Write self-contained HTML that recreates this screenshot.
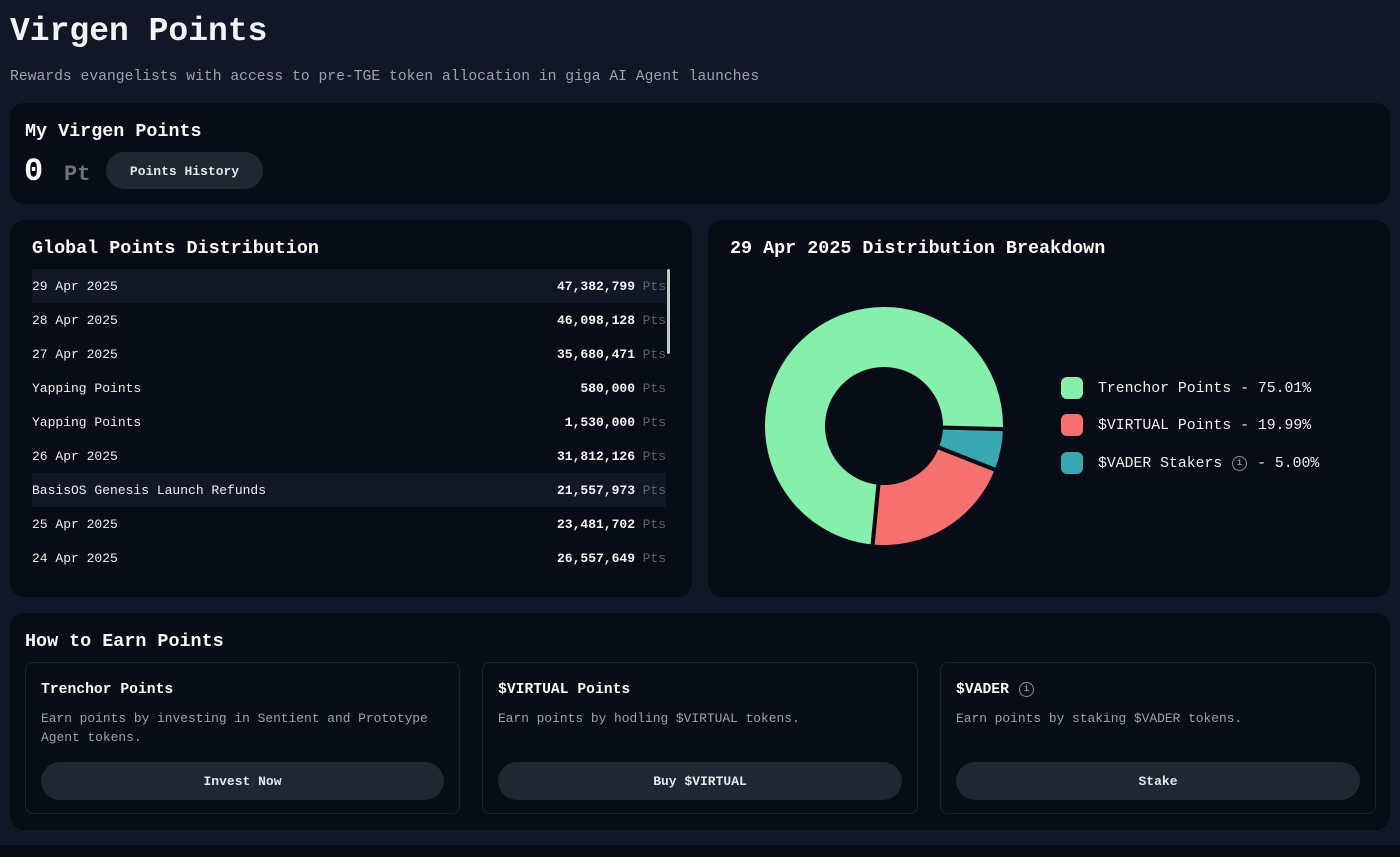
<!DOCTYPE html>
<html><head><meta charset="utf-8">
<style>
*{box-sizing:border-box;margin:0;padding:0}
body{width:1400px;height:857px;background:#090c13;overflow:hidden;font-family:"Liberation Mono",monospace;color:#f3f4f6;position:relative}
.a{position:absolute;white-space:nowrap}
#wrap{position:absolute;left:0;top:0;width:1400px;height:845px;background:#111726}
.card{position:absolute;background:#080c16;border-radius:14px}
.h{font-weight:bold;font-size:18.4px;line-height:24px;color:#f9fafb}
.row{position:absolute;left:32px;width:634px;height:34px;font-size:13px;line-height:34px}
.row .l{position:absolute;left:0;top:1px;color:#eef0f3}
.row .n{position:absolute;right:31px;top:1px;font-weight:bold;color:#f3f4f6}
.row .p{position:absolute;right:0;top:1px;color:#5b6270}
.hl{background:#111725}
.btn{position:absolute;background:#1f2733;border-radius:19px;text-align:center;font-weight:bold;font-size:13px;color:#e5e7eb}
.ic{position:absolute;border:1.3px solid #8a909a;border-radius:50%;color:#8a909a;font-size:9px;text-align:center;font-weight:bold}
.inner{position:absolute;top:662px;height:152px;border:1px solid #1a2130;border-radius:8px;background:#080c16}
.it{position:absolute;left:15px;top:16px;font-weight:bold;font-size:14.7px;line-height:22px;color:#f9fafb}
.id{position:absolute;left:15px;top:46px;font-size:12.9px;line-height:19px;color:#9ca3af;white-space:nowrap}
.sq{position:absolute;width:22px;height:22px;border-radius:6px}
.lg{position:absolute;left:1098px;font-size:14.8px;line-height:22px;color:#eef0f3}
</style></head>
<body>
<div id="wrap">
  <div class="a" style="left:10px;top:12px;font-size:33px;line-height:40px;font-weight:bold;color:#f3f4f6">Virgen Points</div>
  <div class="a" style="left:10px;top:67px;font-size:14.7px;line-height:20px;color:#9ca3af">Rewards evangelists with access to pre-TGE token allocation in giga AI Agent launches</div>

  <div class="card" style="left:10px;top:103px;width:1380px;height:101px"></div>
  <div class="a h" style="left:25px;top:120px">My Virgen Points</div>
  <div class="a" style="left:24px;top:154px;font-size:32px;line-height:36px;font-weight:bold;color:#f9fafb">0</div>
  <div class="a" style="left:64px;top:162px;font-size:22px;line-height:26px;font-weight:bold;color:#6b7280">Pt</div>
  <div class="btn" style="left:106px;top:152px;width:157px;height:37px;line-height:39px">Points History</div>

  <div class="card" style="left:10px;top:220px;width:682px;height:377px"></div>
  <div class="a h" style="left:32px;top:237px">Global Points Distribution</div>
  <div class="row hl" style="top:269px"><span class="l">29 Apr 2025</span><span class="n">47,382,799</span><span class="p">Pts</span></div>
  <div class="row" style="top:303px"><span class="l">28 Apr 2025</span><span class="n">46,098,128</span><span class="p">Pts</span></div>
  <div class="row" style="top:337px"><span class="l">27 Apr 2025</span><span class="n">35,680,471</span><span class="p">Pts</span></div>
  <div class="row" style="top:371px"><span class="l">Yapping Points</span><span class="n">580,000</span><span class="p">Pts</span></div>
  <div class="row" style="top:405px"><span class="l">Yapping Points</span><span class="n">1,530,000</span><span class="p">Pts</span></div>
  <div class="row" style="top:439px"><span class="l">26 Apr 2025</span><span class="n">31,812,126</span><span class="p">Pts</span></div>
  <div class="row hl" style="top:473px"><span class="l">BasisOS Genesis Launch Refunds</span><span class="n">21,557,973</span><span class="p">Pts</span></div>
  <div class="row" style="top:507px"><span class="l">25 Apr 2025</span><span class="n">23,481,702</span><span class="p">Pts</span></div>
  <div class="row" style="top:541px"><span class="l">24 Apr 2025</span><span class="n">26,557,649</span><span class="p">Pts</span></div>
  <div class="a" style="left:667px;top:269px;width:3px;height:85px;background:#c4c8cf;border-radius:2px"></div>

  <div class="card" style="left:708px;top:220px;width:682px;height:377px"></div>
  <div class="a h" style="left:730px;top:237px">29 Apr 2025 Distribution Breakdown</div>
  <svg class="a" style="left:0;top:0" width="1400" height="845" viewBox="0 0 1400 845">
    <g stroke="#080c16" stroke-width="4" stroke-linejoin="miter">
      <path fill="#3aa8b0" d="M1004.96 429.17 A121 121 0 0 1 996.58 470.35 L937.03 446.89 A57 57 0 0 0 940.98 427.49 Z"/>
      <path fill="#f87171" d="M996.58 470.35 A121 121 0 0 1 872.40 546.44 L878.54 482.74 A57 57 0 0 0 937.03 446.89 Z"/>
      <path fill="#86efac" d="M872.40 546.44 A121 121 0 1 1 1004.96 429.17 L940.98 427.49 A57 57 0 1 0 878.54 482.74 Z"/>
    </g>
  </svg>
  <div class="sq" style="left:1061px;top:377px;background:#86efac"></div>
  <div class="sq" style="left:1061px;top:414px;background:#f87171"></div>
  <div class="sq" style="left:1061px;top:452px;background:#3aa8b0"></div>
  <div class="lg a" style="top:378px">Trenchor Points - 75.01%</div>
  <div class="lg a" style="top:415px">$VIRTUAL Points - 19.99%</div>
  <div class="lg a" style="top:453px">$VADER Stakers <span style="display:inline-block;width:17px"></span> - 5.00%</div>
  <div class="ic" style="left:1232px;top:456px;width:15px;height:15px;line-height:12px">i</div>

  <div class="card" style="left:10px;top:613px;width:1380px;height:217px"></div>
  <div class="a h" style="left:25px;top:630px">How to Earn Points</div>

  <div class="inner" style="left:25px;width:435px">
    <div class="it">Trenchor Points</div>
    <div class="id">Earn points by investing in Sentient and Prototype<br>Agent tokens.</div>
    <div class="btn" style="left:15px;top:99px;width:403px;height:38px;line-height:39px">Invest Now</div>
  </div>
  <div class="inner" style="left:482px;width:436px">
    <div class="it">$VIRTUAL Points</div>
    <div class="id">Earn points by hodling $VIRTUAL tokens.</div>
    <div class="btn" style="left:15px;top:99px;width:404px;height:38px;line-height:39px">Buy $VIRTUAL</div>
  </div>
  <div class="inner" style="left:940px;width:436px">
    <div class="it">$VADER</div>
    <div class="ic" style="left:78px;top:19px;width:15px;height:15px;line-height:12px">i</div>
    <div class="id">Earn points by staking $VADER tokens.</div>
    <div class="btn" style="left:15px;top:99px;width:404px;height:38px;line-height:39px">Stake</div>
  </div>
</div>
</body></html>
